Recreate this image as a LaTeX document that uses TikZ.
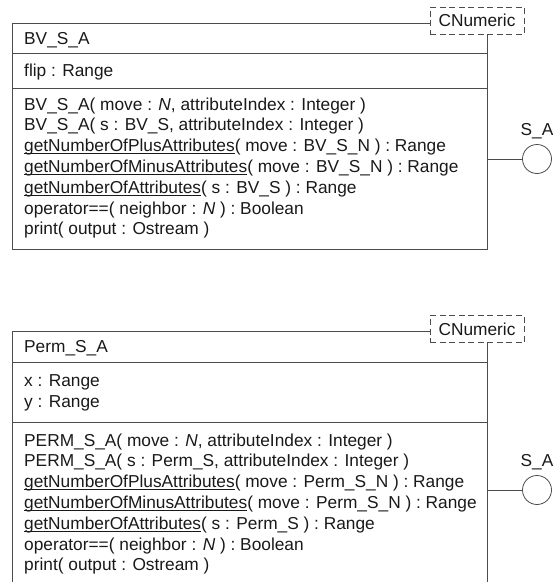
\documentclass[tikz,border=0pt]{standalone}
\usepackage{fontspec}
\setmainfont{Liberation Sans}
\newsavebox{\ulbox}
\newcommand{\ulname}[1]{\sbox{\ulbox}{#1}\rlap{\rule[-2.2pt]{\wd\ulbox}{0.7pt}}\usebox{\ulbox}}
\begin{document}
\begin{tikzpicture}[x=1pt,y=-1pt,
  txt/.style={anchor=base west,inner sep=0pt,text=black!90,font=\fontsize{17.3}{20}\selectfont},
  lbl/.style={anchor=base,inner sep=0pt,text=black!90,font=\fontsize{17.3}{20}\selectfont},
  frame/.style={draw=black!70,line width=0.8pt},
  stereo/.style={draw=black!70,dashed,dash pattern=on 6pt off 3.5pt,line width=0.8pt,minimum width=94pt,minimum height=27pt,inner sep=0pt,text=black!90,font=\fontsize{17.3}{20}\selectfont},
  lolli/.style={draw=black!70,circle,line width=0.8pt,minimum size=29pt,inner sep=0pt}]
\useasboundingbox (0,0) rectangle (553,582);
% ---------- class 1 ----------
\node[stereo] (cn1) at (477,20.5) {CNumeric};
\coordinate (b1tl) at (12.5,23);
\coordinate (b1br) at (487,249);
\draw[frame] (cn1.west |- b1tl) -- (b1tl) -- (b1tl |- b1br) -- (b1br) -- (b1br |- cn1.south);
\draw[frame] (12.5,53) -- (487,53);
\draw[frame] (12.5,88) -- (487,88);
\node[txt] (n1) at (24,44) {BV\_S\_A};
\node[txt] (a1) at (24,76) {flip : Range};
\node[txt] (m11) at (24,110) {BV\_S\_A( move : \textit{N}, attributeIndex : Integer )};
\node[txt] (m12) at (24,130.8) {BV\_S\_A( s : BV\_S, attributeIndex : Integer )};
\node[txt] (m13) at (24,151.6) {\ulname{getNumberOfPlusAttributes}( move : BV\_S\_N ) : Range};
\node[txt] (m14) at (24,172.4) {\ulname{getNumberOfMinusAttributes}( move : BV\_S\_N ) : Range};
\node[txt] (m15) at (24,193.2) {\ulname{getNumberOfAttributes}( s : BV\_S ) : Range};
\node[txt] (m16) at (24,214) {operator==( neighbor : \textit{N} ) : Boolean};
\node[txt] (m17) at (24,234.8) {print( output : Ostream )};
\node[lolli] (l1) at (537,159) {};
\node[lbl] (s1) at (537,135) {S\_A};
\coordinate (p1) at (487,159);
\draw[frame] (p1) -- (l1.west);
% ---------- class 2 ----------
\node[stereo] (cn2) at (477,329) {CNumeric};
\coordinate (b2tl) at (12.5,331);
\coordinate (b2bl) at (12.5,582);
\coordinate (b2br) at (487,582);
\draw[frame] (cn2.west |- b2tl) -- (b2tl) -- (b2bl);
\draw[frame] (b2br) -- (b2br |- cn2.south);
\draw[frame] (12.5,362) -- (487,362);
\draw[frame] (12.5,422) -- (487,422);
\node[txt] (n2) at (24,352.5) {Perm\_S\_A};
\node[txt] (a21) at (24,386) {x : Range};
\node[txt] (a22) at (24,407) {y : Range};
\node[txt] (m21) at (24,446) {PERM\_S\_A( move : \textit{N}, attributeIndex : Integer )};
\node[txt] (m22) at (24,466.8) {PERM\_S\_A( s : Perm\_S, attributeIndex : Integer )};
\node[txt] (m23) at (24,487.6) {\ulname{getNumberOfPlusAttributes}( move : Perm\_S\_N ) : Range};
\node[txt] (m24) at (24,508.4) {\ulname{getNumberOfMinusAttributes}( move : Perm\_S\_N ) : Range};
\node[txt] (m25) at (24,529.2) {\ulname{getNumberOfAttributes}( s : Perm\_S ) : Range};
\node[txt] (m26) at (24,550) {operator==( neighbor : \textit{N} ) : Boolean};
\node[txt] (m27) at (24,570.8) {print( output : Ostream )};
\node[lolli] (l2) at (537,490) {};
\node[lbl] (s2) at (537,466) {S\_A};
\coordinate (p2) at (487,490);
\draw[frame] (p2) -- (l2.west);
\end{tikzpicture}
\end{document}
